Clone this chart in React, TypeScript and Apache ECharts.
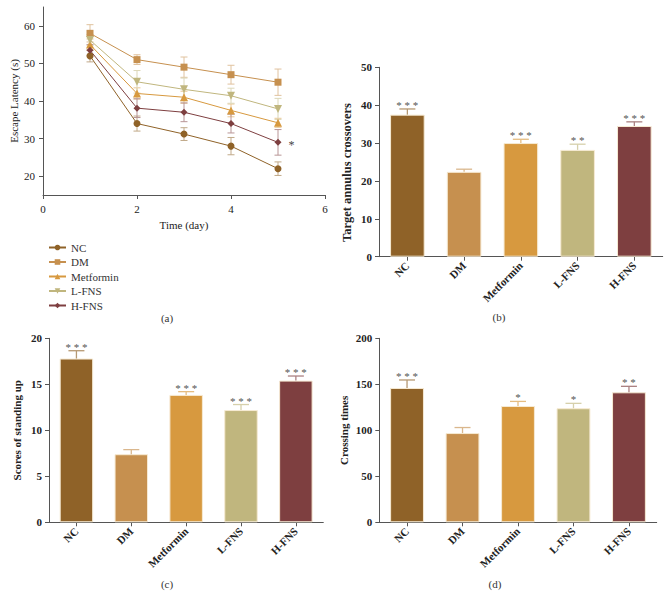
import React, { useEffect, useRef } from "react";
import * as echarts from "echarts";

const groups = ["NC", "DM", "Metformin", "L-FNS", "H-FNS"];
const days = [1, 2, 3, 4, 5];

// Panel (a) escape latency (mean, sd)
const latNC = [52, 34, 31.2, 28, 22];
const sdNC = [1.6, 2, 1.7, 2.3, 1.8];
const latDM = [58, 51, 49, 47, 45];
const sdDM = [2.3, 1.3, 2.7, 2.5, 3.5];
const latMet = [55, 42, 41, 37.5, 34.2];
const sdMet = [1.5, 1.5, 1.6, 1.7, 1.2];
const latL = [56.2, 45.1, 43.1, 41.4, 37.9];
const sdL = [1.5, 3, 3, 2, 2.8];
const latH = [53.5, 38.1, 37, 34, 29];
const sdH = [1.5, 2.5, 2.5, 2.5, 3.4];

// Panel (b) target annulus crossovers
const crossB = [37.5, 22.4, 30, 28.2, 34.5];
const errB = [1.5, 0.7, 1.0, 1.5, 1.1];
const sigB = ["***", "", "***", "**", "***"];
// Panel (c) scores of standing up
const scoreC = [17.8, 7.4, 13.85, 12.2, 15.4];
const errC = [0.85, 0.5, 0.35, 0.6, 0.5];
const sigC = ["***", "", "***", "***", "***"];
// Panel (d) crossing times
const timesD = [146, 97, 126.4, 124, 141.3];
const errD = [8.7, 6, 5, 5.3, 6.5];
const sigD = ["***", "", "*", "*", "**"];

const yTicksA = [20, 30, 40, 50, 60];

const colors = ["#8f6228", "#c6904f", "#d7993f", "#c0b67e", "#7e3f40"];
const symbols = ["circle", "rect", "triangle", "triangle", "diamond"];
const symbolRot = [0, 0, 0, 180, 0];
const symbolSizes = [7, 7, 8, 8, 7];

const FONT = "'Liberation Serif', 'DejaVu Serif', serif";
const AXIS = "#555";

function lighten(hex: string, t: number) {
  const n = parseInt(hex.slice(1), 16);
  const r = (n >> 16) & 255, g = (n >> 8) & 255, b = n & 255;
  const m = (c: number) => Math.round(c + (255 - c) * t);
  return `rgb(${m(r)},${m(g)},${m(b)})`;
}

export default function App() {
  const ref = useRef<HTMLDivElement>(null);
  useEffect(() => {
    if (!ref.current) return;
    const chart = echarts.init(ref.current, null, { renderer: "svg" });
    const lat = [latNC, latDM, latMet, latL, latH];
    const sds = [sdNC, sdDM, sdMet, sdL, sdH];

    const lineSeries: any[] = groups.map((g, k) => ({
      type: "line",
      name: g,
      xAxisIndex: 0,
      yAxisIndex: 0,
      symbol: symbols[k],
      symbolRotate: symbolRot[k],
      symbolSize: symbolSizes[k],
      z: 5,
      lineStyle: { width: 1, color: colors[k] },
      itemStyle: { color: colors[k] },
      data: days.map((d, i) => {
        const item: any = { value: [d, lat[k][i]] };
        if (k === 4 && i === days.length - 1) {
          item.label = {
            show: true,
            formatter: "*",
            position: "right",
            distance: 7,
            offset: [0, 3],
            fontFamily: FONT,
            fontSize: 12,
            color: "#444",
          };
        }
        return item;
      }),
    }));

    const lineErr: any[] = groups.map((g, k) => ({
      type: "custom",
      xAxisIndex: 0,
      yAxisIndex: 0,
      z: 3,
      silent: true,
      data: days.map((d, i) => [d, lat[k][i] - sds[k][i], lat[k][i] + sds[k][i]]),
      renderItem: (params: any, api: any) => {
        const x = api.value(0);
        const lo = api.coord([x, api.value(1)]);
        const hi = api.coord([x, api.value(2)]);
        const hw = 3.5;
        const st = { stroke: lighten(colors[k], 0.45), lineWidth: 1 };
        return {
          type: "group",
          children: [
            { type: "line", shape: { x1: lo[0], y1: lo[1], x2: hi[0], y2: hi[1] }, style: st },
            { type: "line", shape: { x1: lo[0] - hw, y1: lo[1], x2: lo[0] + hw, y2: lo[1] }, style: st },
            { type: "line", shape: { x1: hi[0] - hw, y1: hi[1], x2: hi[0] + hw, y2: hi[1] }, style: st },
          ],
        };
      },
    }));

    const barPanel = (idx: number, vals: number[], errs: number[], sigs: string[]) => [
      {
        type: "bar",
        xAxisIndex: idx,
        yAxisIndex: idx,
        barWidth: "61%",
        z: 2,
        data: vals.map((v, i) => ({
          value: v,
          itemStyle: { color: colors[i], borderColor: "#f6ead3", borderWidth: 1 },
        })),
      },
      {
        type: "custom",
        xAxisIndex: idx,
        yAxisIndex: idx,
        z: 4,
        silent: true,
        data: vals.map((v, i) => [i, v, errs[i]]),
        renderItem: (params: any, api: any) => {
          const i = api.value(0);
          const v = api.value(1);
          const e = api.value(2);
          const b = api.coord([i, v]);
          const t = api.coord([i, v + e]);
          const hw = 8;
          const st = { stroke: lighten(colors[params.dataIndex], 0.35), lineWidth: 1.3 };
          return {
            type: "group",
            children: [
              { type: "line", shape: { x1: b[0], y1: b[1], x2: t[0], y2: t[1] }, style: st },
              { type: "line", shape: { x1: t[0] - hw, y1: t[1], x2: t[0] + hw, y2: t[1] }, style: st },
              {
                type: "text",
                x: t[0],
                y: t[1] + 1.5,
                style: {
                  text: sigs[params.dataIndex].split("").join(" "),
                  fontFamily: FONT,
                  fontSize: 11,
                  fill: "#555",
                  align: "center",
                  verticalAlign: "bottom",
                },
              },
            ],
          };
        },
      },
    ];

    const grids = [
      { left: 43, top: 7, width: 282, height: 188 },
      { left: 379, top: 67.3, width: 283.7, height: 189.4 },
      { left: 49, top: 338.3, width: 274.3, height: 184 },
      { left: 379.3, top: 338.3, width: 277.4, height: 184 },
    ];

    const lblStyle = { fontFamily: FONT, fontSize: 11, color: "#222" };
    const boldLbl = { ...lblStyle, fontWeight: "bold" as const };

    const catX = (idx: number) => ({
      type: "category",
      gridIndex: idx,
      data: groups,
      axisLine: { show: true, lineStyle: { color: AXIS, width: 1 } },
      axisTick: { show: true, alignWithLabel: true, length: 4, lineStyle: { color: AXIS } },
      axisLabel: { ...boldLbl, rotate: 45, interval: 0, margin: 7 },
    });
    const valY = (idx: number, max: number, interval: number, name: string, gap: number, nameStyle: any) => ({
      type: "value",
      gridIndex: idx,
      min: 0,
      max,
      interval,
      name,
      nameLocation: "middle",
      nameGap: gap,
      nameTextStyle: { ...boldLbl, ...nameStyle },
      axisLine: { show: true, lineStyle: { color: AXIS, width: 1 } },
      axisTick: { show: true, length: 4, lineStyle: { color: AXIS } },
      splitLine: { show: false },
      axisLabel: { ...boldLbl, margin: 7 },
    });

    chart.setOption({
      animation: false,
      backgroundColor: "#ffffff",
      textStyle: { fontFamily: FONT },
      grid: grids,
      legend: {
        data: groups,
        orient: "vertical",
        left: 43,
        top: 237,
        itemWidth: 17,
        itemHeight: 7,
        itemGap: 3.5,
        textStyle: { fontFamily: FONT, fontSize: 11, color: "#333" },
      },
      xAxis: [
        {
          type: "value",
          gridIndex: 0,
          min: 0,
          max: 6,
          interval: 2,
          name: "Time (day)",
          nameLocation: "middle",
          nameGap: 24,
          nameTextStyle: { ...lblStyle },
          axisLine: { show: true, lineStyle: { color: AXIS } },
          axisTick: { show: true, length: 4, lineStyle: { color: AXIS } },
          splitLine: { show: false },
          axisLabel: { ...lblStyle, margin: 8 },
        },
        catX(1),
        catX(2),
        catX(3),
      ],
      yAxis: [
        {
          type: "value",
          gridIndex: 0,
          min: 15,
          max: 65,
          name: "Escape Latency (s)",
          nameLocation: "middle",
          nameGap: 24,
          nameTextStyle: { ...lblStyle },
          axisLine: { show: true, lineStyle: { color: AXIS } },
          axisTick: { show: true, length: 4, lineStyle: { color: AXIS }, customValues: yTicksA },
          splitLine: { show: false },
          axisLabel: { ...lblStyle, margin: 8, customValues: yTicksA },
        },
        valY(1, 50, 10, "Target annulus crossovers", 26, { fontSize: 12.5, padding: [0, 21, 0, 0] }),
        valY(2, 20, 5, "Scores of standing up", 27, {}),
        valY(3, 200, 50, "Crossing times", 30, {}),
      ],
      graphic: [
        { type: "text", x: 167, y: 318, style: { text: "(a)", fontFamily: FONT, fontSize: 11, fill: "#333", align: "center", verticalAlign: "middle" } },
        { type: "text", x: 499, y: 317, style: { text: "(b)", fontFamily: FONT, fontSize: 11, fill: "#333", align: "center", verticalAlign: "middle" } },
        { type: "text", x: 167, y: 584, style: { text: "(c)", fontFamily: FONT, fontSize: 11, fill: "#333", align: "center", verticalAlign: "middle" } },
        { type: "text", x: 495, y: 584, style: { text: "(d)", fontFamily: FONT, fontSize: 11, fill: "#333", align: "center", verticalAlign: "middle" } },
      ],
      series: [
        ...lineErr,
        ...lineSeries,
        ...barPanel(1, crossB, errB, sigB),
        ...barPanel(2, scoreC, errC, sigC),
        ...barPanel(3, timesD, errD, sigD),
      ],
    });
    return () => chart.dispose();
  }, []);
  return (
    <div
      ref={ref}
      style={{ position: "fixed", left: 0, top: 0, width: 669, height: 606, background: "#fff" }}
    />
  );
}
